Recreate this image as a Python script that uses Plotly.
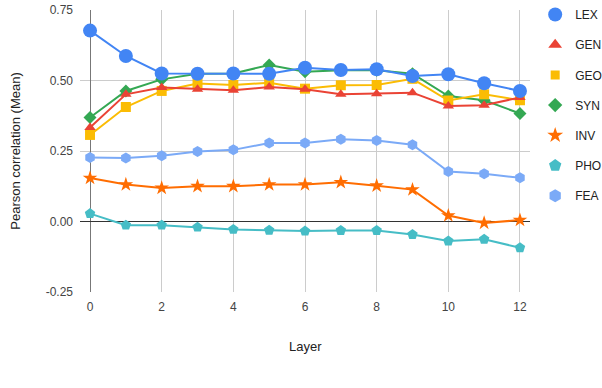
import plotly.graph_objs as go

layers = list(range(13))

lex = [0.677, 0.587, 0.525, 0.524, 0.525, 0.524, 0.545, 0.537, 0.540, 0.516, 0.522, 0.490, 0.463]
gen = [0.333, 0.451, 0.475, 0.469, 0.465, 0.477, 0.469, 0.451, 0.453, 0.457, 0.410, 0.412, 0.440]
geo = [0.307, 0.406, 0.463, 0.489, 0.484, 0.492, 0.471, 0.483, 0.484, 0.506, 0.429, 0.451, 0.430]
syn = [0.369, 0.463, 0.504, 0.524, 0.525, 0.555, 0.531, 0.536, 0.536, 0.524, 0.445, 0.430, 0.383]
inv = [0.154, 0.131, 0.119, 0.125, 0.125, 0.131, 0.131, 0.139, 0.127, 0.113, 0.021, -0.005, 0.005]
pho = [0.028, -0.013, -0.013, -0.020, -0.028, -0.031, -0.034, -0.032, -0.032, -0.046, -0.069, -0.063, -0.093]
fea = [0.227, 0.225, 0.233, 0.248, 0.254, 0.278, 0.278, 0.292, 0.287, 0.272, 0.177, 0.169, 0.155]

y_ticks = [-0.25, 0.0, 0.25, 0.5, 0.75]
y_tick_labels = ['-0.25', '0.00', '0.25', '0.50', '0.75']

series = [
    ('LEX', lex, '#4285F4', 'circle', 14, 14),
    ('GEN', gen, '#EA4335', 'triangle-up', 10, 12),
    ('GEO', geo, '#FBBC04', 'square', 10, 9),
    ('SYN', syn, '#34A853', 'diamond', 10, 11),
    ('INV', inv, '#FF6D01', 'star', 11, 12),
    ('PHO', pho, '#46BDC6', 'pentagon', 11, 13),
    ('FEA', fea, '#7BAAF7', 'hexagon', 11, 13),
]

fig = go.Figure()

# lines + markers drawn in reverse so LEX sits on top
for name, vals, color, symbol, size, _ in reversed(series):
    fig.add_trace(go.Scatter(x=layers,
                             y=vals,
                             mode='lines+markers',
                             name=name,
                             line={'color': color, 'width': 2},
                             marker={'symbol': symbol, 'size': size, 'color': color},
                             showlegend=False))

# marker-only legend entries, like the google chart
for name, vals, color, symbol, _, lsize in series:
    fig.add_trace(go.Scatter(x=[None],
                             y=[None],
                             mode='markers',
                             name=name,
                             legendgroup=name,
                             marker={'symbol': symbol, 'size': lsize, 'color': color}))

fig.add_annotation(text='Pearson correlation (Mean)', textangle=-90,
                   xref='paper', yref='paper', x=-0.145, y=0.5,
                   xanchor='center', yanchor='middle', showarrow=False,
                   font={'size': 13, 'color': '#222'})
fig.add_annotation(text='Layer',
                   xref='paper', yref='paper', x=0.5, y=-0.195,
                   xanchor='center', yanchor='middle', showarrow=False,
                   font={'size': 13, 'color': '#222'})

fig.update_layout(width=602,
                  height=388,
                  autosize=False,
                  margin={'l': 80, 'r': 72, 't': 9.5, 'b': 95.5},
                  paper_bgcolor='white',
                  plot_bgcolor='white',
                  font={'family': 'Liberation Sans, Arial, sans-serif', 'size': 12, 'color': '#444'},
                  legend={'xref': 'container', 'yref': 'container',
                          'x': 0.889, 'y': 1.0, 'xanchor': 'left', 'yanchor': 'top',
                          'maxheight': 380,
                          'traceorder': 'grouped', 'tracegroupgap': 11.2,
                          'font': {'size': 12, 'color': '#222'}},
                  xaxis={'range': [-0.28, 12.28], 'automargin': False,
                         'tickmode': 'linear', 'tick0': 0, 'dtick': 2,
                         'showgrid': True, 'gridcolor': '#cccccc', 'gridwidth': 1,
                         'zeroline': True, 'zerolinecolor': '#777777', 'zerolinewidth': 1,
                         'ticks': '', 'ticklabelstandoff': 6},
                  yaxis={'range': [-0.25, 0.75], 'automargin': False,
                         'tickmode': 'array', 'tickvals': y_ticks, 'ticktext': y_tick_labels,
                         'showgrid': True, 'gridcolor': '#cccccc', 'gridwidth': 1,
                         'zeroline': True, 'zerolinecolor': '#333333', 'zerolinewidth': 1,
                         'ticks': '', 'ticklabelstandoff': 6})

# drop the browser's default body margin so the chart starts at the page corner
fig.write_html("out.html",
               config={'displayModeBar': False},
               post_script="document.body.style.margin = '0';")
